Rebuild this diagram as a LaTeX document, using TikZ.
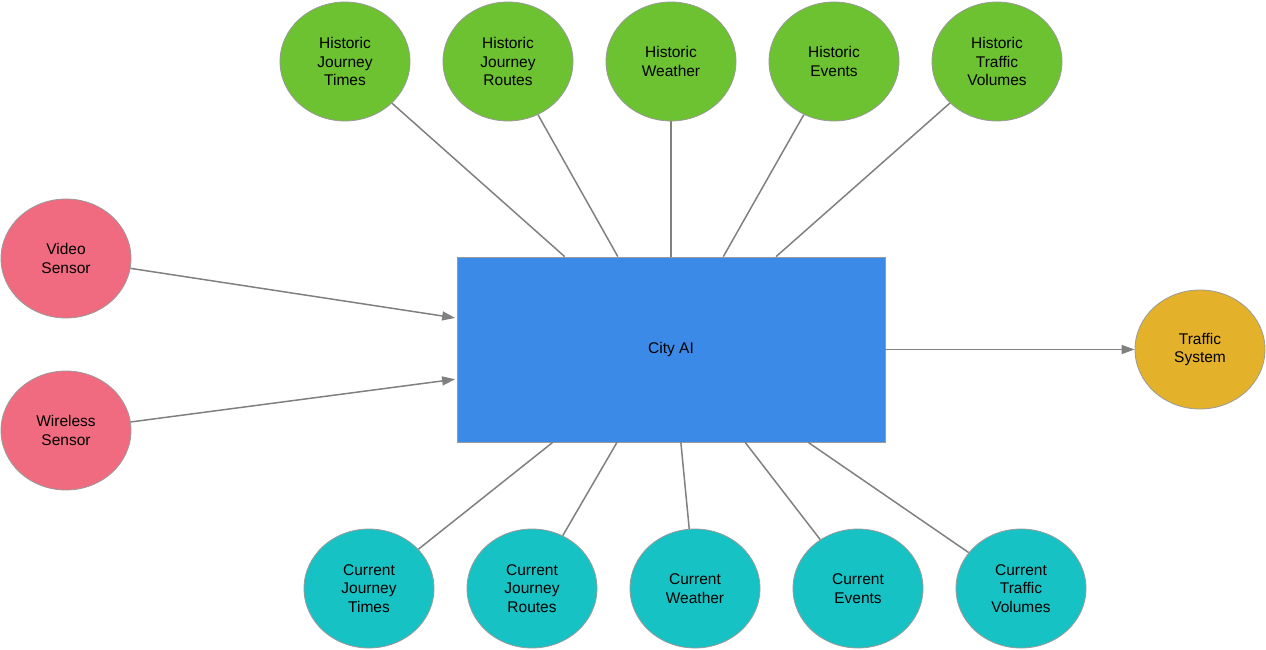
\documentclass[tikz,border=0pt]{standalone}
\usepackage{fontspec}
\setmainfont{Liberation Sans}
\usetikzlibrary{shapes.geometric,arrows.meta,calc}
\definecolor{pinkc}{HTML}{F06B80}
\definecolor{greenc}{HTML}{6CC230}
\definecolor{cyanc}{HTML}{17C2C5}
\definecolor{yellowc}{HTML}{E4B22A}
\definecolor{bluec}{HTML}{3B8AE7}
\definecolor{linec}{HTML}{808080}
\definecolor{rimc}{HTML}{9A9A9A}
\pgfdeclareradialshading{pinksh}{\pgfpoint{0bp}{4bp}}{color(0bp)=(pinkc); color(38bp)=(pinkc); color(50bp)=(pinkc!72!black)}
\pgfdeclareradialshading{greensh}{\pgfpoint{0bp}{4bp}}{color(0bp)=(greenc); color(38bp)=(greenc); color(50bp)=(greenc!72!black)}
\pgfdeclareradialshading{cyansh}{\pgfpoint{0bp}{4bp}}{color(0bp)=(cyanc); color(38bp)=(cyanc); color(50bp)=(cyanc!72!black)}
\pgfdeclareradialshading{yellowsh}{\pgfpoint{0bp}{4bp}}{color(0bp)=(yellowc); color(38bp)=(yellowc); color(50bp)=(yellowc!72!black)}
\tikzset{
  bubble/.style={ellipse, draw=rimc, line width=0.8pt, minimum width=130pt, minimum height=119pt,
    inner sep=0pt, align=center, font=\fontsize{15.5}{18.5}\selectfont, text=black},
  pinkb/.style={bubble, shading=pinksh},
  greenb/.style={bubble, shading=greensh},
  cyanb/.style={bubble, shading=cyansh},
  yellowb/.style={bubble, shading=yellowsh},
  aibox/.style={rectangle, draw=rimc, line width=0.8pt, fill=bluec, minimum width=428pt, minimum height=185pt,
    inner sep=0pt, font=\fontsize{15.5}{18.5}\selectfont},
  link/.style={draw=linec, line width=1.5pt},
  arr/.style={link, -{Triangle[length=13pt,width=9pt]}},
}
\begin{document}
\begin{tikzpicture}[x=1pt,y=-1pt]
\useasboundingbox (0,0) rectangle (1266,650);
\node[aibox] (ai) at (671,349.5) {City AI};
% historic
\node[greenb] (h1) at (345,61.5) {Historic\\Journey\\Times};
\node[greenb] (h2) at (508,61.5) {Historic\\Journey\\Routes};
\node[greenb] (h3) at (671,61.5) {Historic\\Weather};
\node[greenb] (h4) at (834,61.5) {Historic\\Events};
\node[greenb] (h5) at (997,61.5) {Historic\\Traffic\\Volumes};
% current
\node[cyanb] (c1) at (369,588.5) {Current\\Journey\\Times};
\node[cyanb] (c2) at (532,588.5) {Current\\Journey\\Routes};
\node[cyanb] (c3) at (695,588.5) {Current\\Weather};
\node[cyanb] (c4) at (858,588.5) {Current\\Events};
\node[cyanb] (c5) at (1021,588.5) {Current\\Traffic\\Volumes};
% sensors
\node[pinkb] (vs) at (66,258.5) {Video\\Sensor};
\node[pinkb] (ws) at (66,430.5) {Wireless\\Sensor};
\node[yellowb] (ts) at (1200,349.5) {Traffic\\System};
% anchor points on box
\coordinate (t1) at ($(ai.north west)!0.252!(ai.north east)$);
\coordinate (t2) at ($(ai.north west)!0.376!(ai.north east)$);
\coordinate (t3) at ($(ai.north west)!0.5!(ai.north east)$);
\coordinate (t4) at ($(ai.north west)!0.622!(ai.north east)$);
\coordinate (t5) at ($(ai.north west)!0.745!(ai.north east)$);
\coordinate (b1) at ($(ai.south west)!0.224!(ai.south east)$);
\coordinate (b2) at ($(ai.south west)!0.374!(ai.south east)$);
\coordinate (b3) at ($(ai.south west)!0.523!(ai.south east)$);
\coordinate (b4) at ($(ai.south west)!0.673!(ai.south east)$);
\coordinate (b5) at ($(ai.south west)!0.82!(ai.south east)$);
\coordinate (l1) at ($(ai.north west)!0.33!(ai.south west)$);
\coordinate (l2) at ($(ai.north west)!0.66!(ai.south west)$);
\draw[link] (t1) -- (h1);
\draw[link] (t2) -- (h2);
\draw[link] (t3) -- (h3);
\draw[link] (t4) -- (h4);
\draw[link] (t5) -- (h5);
\draw[link] (b1) -- (c1);
\draw[link] (b2) -- (c2);
\draw[link] (b3) -- (c3);
\draw[link] (b4) -- (c4);
\draw[link] (b5) -- (c5);
\draw[arr] (vs) -- ([xshift=-1.5pt]l1);
\draw[arr] (ws) -- ([xshift=-1.5pt]l2);
\draw[arr] (ai.east) -- (ts);
\end{tikzpicture}
\end{document}
